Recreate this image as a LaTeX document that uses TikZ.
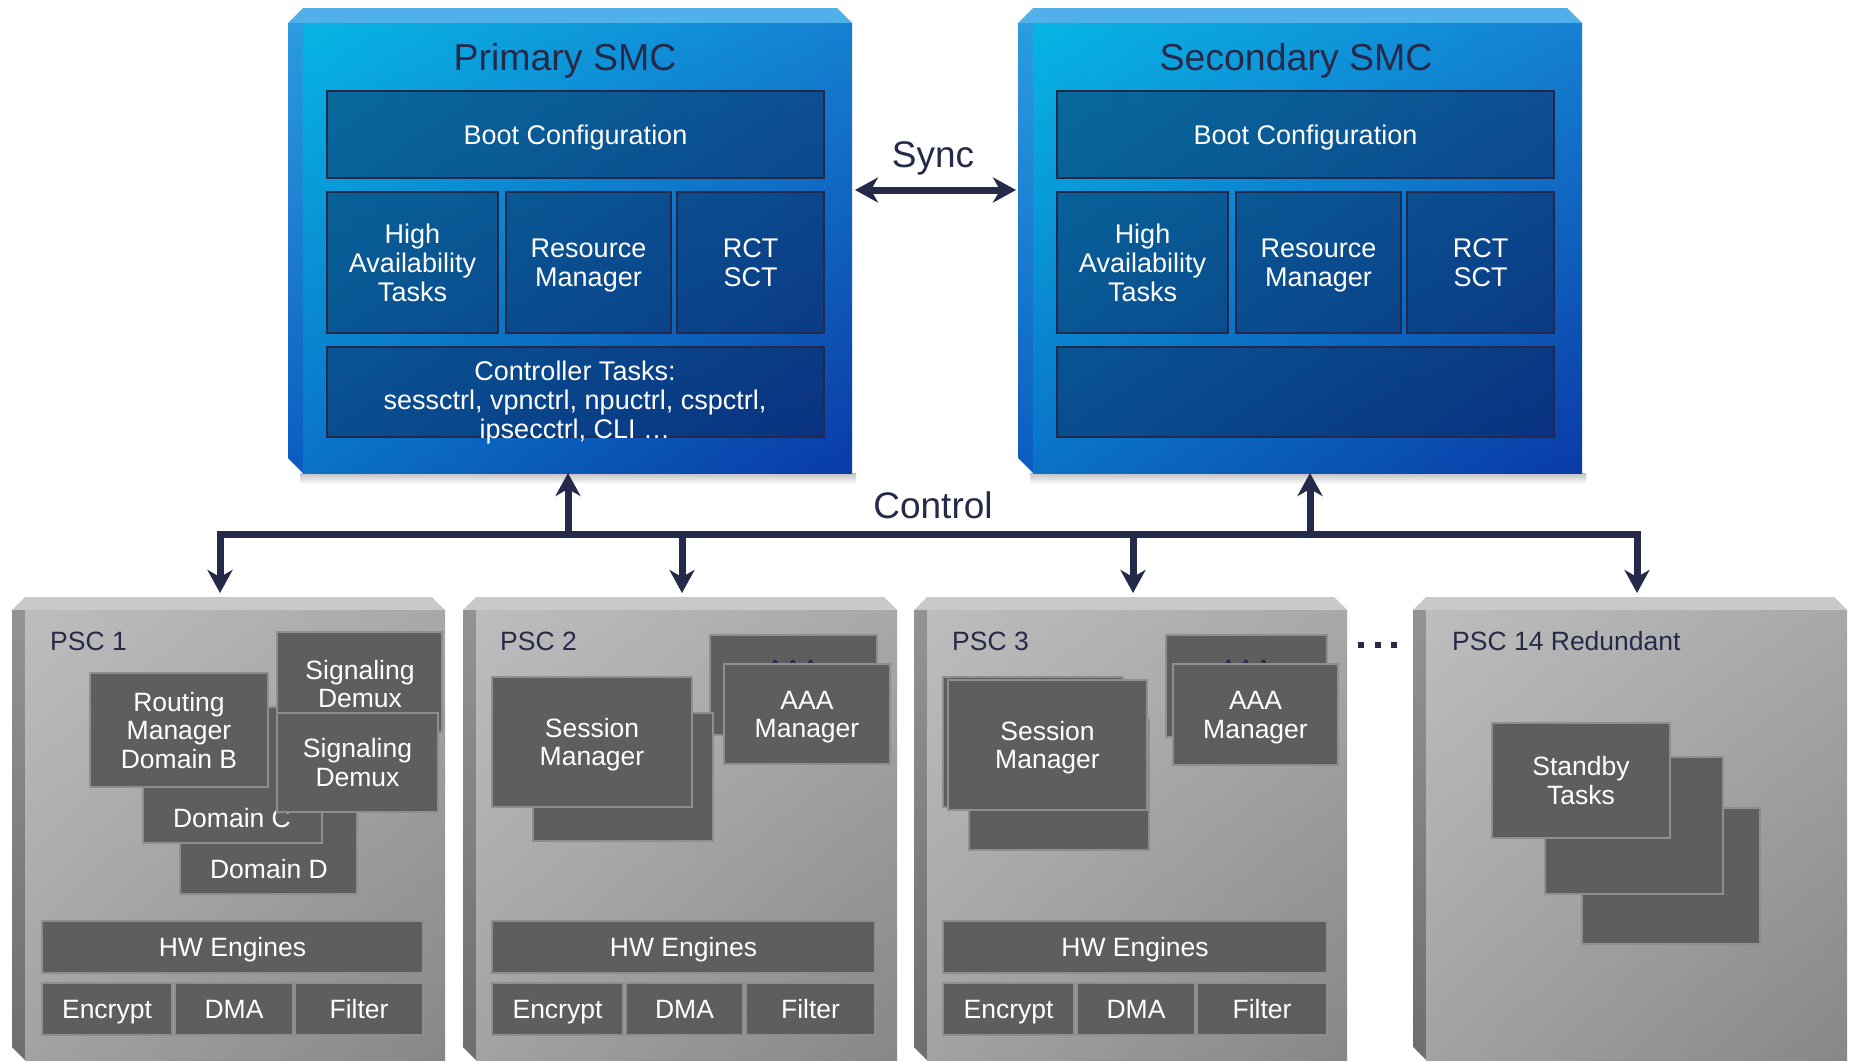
\documentclass[tikz,border=0pt]{standalone}
\usepackage{fontspec}
\setmainfont{Liberation Sans}
\usetikzlibrary{arrows.meta,shadings}

\definecolor{navy}{HTML}{262A4A}
\definecolor{smcul}{HTML}{07B5E4}
\definecolor{smcur}{HTML}{1580D2}
\definecolor{smcll}{HTML}{0A72C8}
\definecolor{smclr}{HTML}{0A3AA6}
\definecolor{smctop}{HTML}{4FB0EA}
\definecolor{smcsideA}{HTML}{2A9CE0}
\definecolor{smcsideB}{HTML}{0A5CC0}
\definecolor{smcedge}{HTML}{23294B}
\definecolor{smcveil}{HTML}{081E4B}
\definecolor{pscul}{HTML}{BDBDBD}
\definecolor{pscur}{HTML}{A8A8A8}
\definecolor{pscll}{HTML}{A2A2A2}
\definecolor{psclr}{HTML}{878787}
\definecolor{psctop}{HTML}{C9C9C9}
\definecolor{pscsideA}{HTML}{939393}
\definecolor{pscsideB}{HTML}{6E6E6E}
\definecolor{cellfill}{HTML}{5E5E5E}
\definecolor{celledge}{HTML}{8E8E8E}

\newcommand\fsz[2]{\fontsize{#1}{#2}\selectfont}

% a bevelled card: name, x1, y1, x2, y2, colour set, bevel size
\newcommand\slab[7]{%
  \node[inner sep=0pt,outer sep=0pt,minimum width=#4pt-#2pt,minimum height=#5pt-#3pt]
    (#1) at ({(#2+#4)/2},{(#3+#5)/2}) {};
  \fill[#6top] (#2,#3+#7) -- (#2+#7,#3) -- (#4-#7,#3) -- (#4,#3+#7) -- cycle;
  \shade[top color=#6sideA, bottom color=#6sideB]
    (#2,#3+#7) -- (#2+#7,#3+#7) -- (#2+#7,#5) -- (#2,#5-#7) -- cycle;
  \shade[upper left=#6ul, upper right=#6ur, lower left=#6ll, lower right=#6lr]
    (#2+#7,#3+#7) rectangle (#4,#5);
}

% a box given by its corners: style, name, x1, y1, x2, y2, text
\newcommand\cell[7]{%
  \node[#1,minimum width=#5pt-#3pt,minimum height=#6pt-#4pt]
    (#2) at ({(#3+#5)/2},{(#4+#6)/2}) {#7};
}

\begin{document}
\begin{tikzpicture}[x=1pt,y=-1pt,
  % text blocks centred between the first cap line and the last baseline
  ln1/.style={text height=19pt, text depth=0pt},
  ln2/.style={text height=47.5pt, text depth=0pt},
  ln3/.style={text height=76pt, text depth=0pt},
  sn1/.style={text height=19.3pt, text depth=0pt},
  sn2/.style={text height=48.3pt, text depth=0pt},
  sn3/.style={text height=77.3pt, text depth=0pt},
  smcin/.style={draw=smcedge, line width=2.5pt, fill=smcveil, fill opacity=0.45,
    text opacity=1, text=white, font=\fsz{27}{29}, align=center,
    inner sep=0pt, outer sep=0pt},
  smctext/.style={text=white, font=\fsz{27}{29}, align=center, inner sep=0pt},
  pscin/.style={draw=celledge, line width=1.5pt, fill=cellfill, text=white,
    font=\fsz{26.5}{28.5}, align=center, inner sep=0pt, outer sep=0pt},
  psctext/.style={text=white, font=\fsz{26.5}{28.5}, align=center, inner sep=0pt},
  hidtext/.style={text=navy, font=\fsz{26.5}{28.5}, inner sep=0pt, anchor=base},
  title/.style={text=navy, font=\fsz{37.5}{42}, inner sep=0pt, anchor=base},
  biglbl/.style={text=navy, font=\fsz{37}{40}, inner sep=0pt, anchor=base},
  psclbl/.style={text=navy, font=\fsz{26.5}{28.5}, inner sep=0pt, anchor=base west},
  link/.style={draw=navy, line width=7pt},
  onetip/.style={-{Stealth[length=23pt,width=25pt,inset=7pt]}},
  twotips/.style={{Stealth[length=23pt,width=25pt,inset=7pt]}-{Stealth[length=23pt,width=25pt,inset=7pt]}},
]
\fill[white] (0,0) rectangle (1851,1061);
\useasboundingbox (0,0) rectangle (1851,1061);

% ---------- soft shadows under the SMC cards ----------
\shade[top color=black!25, bottom color=white] (300,473) rectangle (856,484);
\shade[top color=black!25, bottom color=white] (1030,473) rectangle (1586,484);

% ---------- Primary SMC ----------
\slab{prim}{288}{8}{852}{473}{smc}{15}
\node[title] (primT) at (565,70) {Primary SMC};
\cell{smcin,sn1}{pBoot}{327}{91}{824}{178}{Boot Configuration}
\cell{smcin,sn3}{pHA}{327}{192}{498}{333}{High\\Availability\\Tasks}
\cell{smcin,sn2}{pRM}{506}{192}{671}{333}{Resource\\Manager}
\cell{smcin,sn2}{pRCT}{677}{192}{824}{333}{RCT\\SCT}
\cell{smcin}{pCtl}{327}{347}{824}{437}{}
\node[smctext,sn3] (pCtlT) at (575,400) {Controller Tasks:\\sessctrl, vpnctrl, npuctrl, cspctrl,\\ipsecctrl, CLI \dots};

% ---------- Secondary SMC ----------
\slab{sec}{1018}{8}{1582}{473}{smc}{15}
\node[title] (secT) at (1296,70) {Secondary SMC};
\cell{smcin,sn1}{sBoot}{1057}{91}{1554}{178}{Boot Configuration}
\cell{smcin,sn3}{sHA}{1057}{192}{1228}{333}{High\\Availability\\Tasks}
\cell{smcin,sn2}{sRM}{1236}{192}{1401}{333}{Resource\\Manager}
\cell{smcin,sn2}{sRCT}{1407}{192}{1554}{333}{RCT\\SCT}
\cell{smcin}{sCtl}{1057}{347}{1554}{437}{}

% ---------- PSC 1 ----------
\slab{p1}{12}{597}{445}{1060}{psc}{13}
\node[psclbl] (p1L) at (50,650) {PSC 1};
\cell{pscin}{p1dD}{180}{760}{357}{894}{}
\node[psctext,ln1] (p1dDt) at (269,869) {Domain D};
\cell{pscin}{p1dC}{143}{707}{322}{843}{}
\node[psctext,ln1] (p1dCt) at (232,818) {Domain C};
\cell{pscin,ln3}{p1rm}{90}{673}{268}{787}{Routing\\Manager\\Domain B}
\cell{pscin}{p1sdB}{277}{632}{442}{732}{}
\node[psctext,ln2] (p1sdBt) at (360,684) {Signaling\\Demux};
\cell{pscin,ln2}{p1sdF}{277}{713}{438}{812}{Signaling\\Demux}
\cell{pscin,ln1}{p1hw}{42}{921}{423}{973}{HW Engines}
\cell{pscin,ln1}{p1enc}{42}{983}{172}{1035}{Encrypt}
\cell{pscin,ln1}{p1dma}{175}{983}{293}{1035}{DMA}
\cell{pscin,ln1}{p1flt}{295}{983}{423}{1035}{Filter}

% ---------- PSC 2 ----------
\slab{p2}{463}{597}{897}{1060}{psc}{13}
\node[psclbl] (p2L) at (500,650) {PSC 2};
\cell{pscin}{p2aB}{710}{635}{877}{735}{}
\node[hidtext] (p2aBt) at (793,678) {AAA};
\cell{pscin,ln2}{p2aF}{724}{664}{890}{764}{AAA\\Manager}
\cell{pscin}{p2sB}{533}{713}{713}{841}{}
\cell{pscin,ln2}{p2sF}{492}{677}{692}{807}{Session\\Manager}
\cell{pscin,ln1}{p2hw}{492}{921}{875}{973}{HW Engines}
\cell{pscin,ln1}{p2enc}{492}{983}{623}{1035}{Encrypt}
\cell{pscin,ln1}{p2dma}{626}{983}{743}{1035}{DMA}
\cell{pscin,ln1}{p2flt}{746}{983}{875}{1035}{Filter}

% ---------- PSC 3 ----------
\slab{p3}{914}{597}{1347}{1060}{psc}{13}
\node[psclbl] (p3L) at (952,650) {PSC 3};
\cell{pscin}{p3aB}{1166}{635}{1327}{737}{}
\node[hidtext] (p3aBt) at (1246,678) {AAA};
\cell{pscin,ln2}{p3aF}{1173}{664}{1338}{765}{AAA\\Manager}
\cell{pscin}{p3sA}{943}{677}{1123}{807}{}
\cell{pscin}{p3sC}{969}{720}{1149}{850}{}
\cell{pscin,ln2}{p3sF}{948}{680}{1147}{810}{Session\\Manager}
\cell{pscin,ln1}{p3hw}{943}{921}{1327}{973}{HW Engines}
\cell{pscin,ln1}{p3enc}{943}{983}{1074}{1035}{Encrypt}
\cell{pscin,ln1}{p3dma}{1077}{983}{1195}{1035}{DMA}
\cell{pscin,ln1}{p3flt}{1197}{983}{1327}{1035}{Filter}

% ---------- ellipsis between PSC 3 and PSC 14 ----------
\fill[navy] (1358,642) rectangle (1364,648);
\fill[navy] (1375,642) rectangle (1381,648);
\fill[navy] (1391,642) rectangle (1397,648);

% ---------- PSC 14 ----------
\slab{p14}{1413}{597}{1847}{1060}{psc}{13}
\node[psclbl] (p14L) at (1452,650) {PSC 14 Redundant};
\cell{pscin}{p14c}{1582}{808}{1760}{944}{}
\cell{pscin}{p14b}{1545}{757}{1723}{894}{}
\cell{pscin,ln2}{p14a}{1492}{723}{1670}{838}{Standby\\Tasks}

% ---------- Sync link ----------
\node[biglbl] (syncL) at (933,167) {Sync};
\draw[link, twotips, shorten <=3pt, shorten >=2pt] (prim.east |- 0,190) -- (sec.west |- 0,190);

% ---------- Control bus ----------
\node[biglbl] (ctlL) at (933,518) {Control};
\coordinate (d1) at (220,534);
\coordinate (d2) at (682,534);
\coordinate (d3) at (1133,534);
\coordinate (d4) at (1637,534);
\coordinate (u1) at (568,534);
\coordinate (u2) at (1310,534);
\draw[link, twotips, shorten <=4pt, shorten >=4pt] (d1 |- p1.north) -- (d1) -- (d4) -- (d4 |- p14.north);
\draw[link, onetip, shorten >=4pt] (d2) -- (d2 |- p2.north);
\draw[link, onetip, shorten >=4pt] (d3) -- (d3 |- p3.north);
\draw[link, onetip] (u1) -- (u1 |- prim.south);
\draw[link, onetip] (u2) -- (u2 |- sec.south);
\end{tikzpicture}
\end{document}
